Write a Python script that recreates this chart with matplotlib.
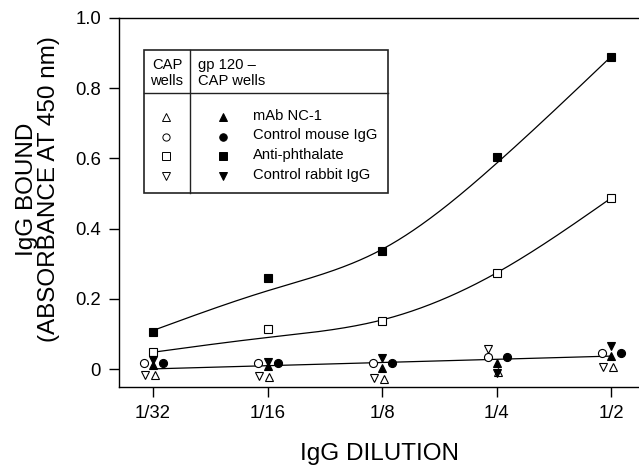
import numpy as np
import matplotlib
matplotlib.use("Agg")
import matplotlib.pyplot as plt
from matplotlib.transforms import ScaledTranslation
from matplotlib.lines import Line2D
from matplotlib.patches import Rectangle
from matplotlib.ticker import NullLocator

plt.rcParams['font.family'] = ['Liberation Sans', 'DejaVu Sans']

# IgG dilutions on the x axis
dilution = [1/32, 1/16, 1/8, 1/4, 1/2]
dilution_labels = ["1/32", "1/16", "1/8", "1/4", "1/2"]
y_ticks = [0, 0.2, 0.4, 0.6, 0.8, 1.0]
y_tick_labels = ["0", "0.2", "0.4", "0.6", "0.8", "1.0"]

# gp 120 - CAP wells (filled symbols)
gp_nc1 = [0.012, 0.009, 0.003, 0.018, 0.037]
gp_mouse = [0.018, 0.016, 0.016, 0.035, 0.047]
gp_phthal = [0.105, 0.26, 0.337, 0.605, 0.89]
gp_rabbit = [0.026, 0.021, 0.032, -0.012, 0.066]

# CAP wells (open symbols)
cap_nc1 = [-0.018, -0.022, -0.028, -0.009, 0.005]
cap_mouse = [0.016, 0.016, 0.016, 0.035, 0.047]
cap_phthal = [0.048, 0.115, 0.138, 0.274, 0.487]
cap_rabbit = [-0.016, -0.020, -0.024, 0.056, 0.007]

# regression curves evaluated at each dilution
fit_gp_phthal = [0.11, 0.223, 0.341, 0.586, 0.89]
fit_cap_phthal = [0.048, 0.09, 0.14, 0.274, 0.487]
fit_controls = [0.0, 0.011, 0.018, 0.028, 0.037]


def natural_spline(x, y, xs):
    """Natural cubic spline through (x, y), evaluated at xs."""
    x = np.asarray(x, float)
    y = np.asarray(y, float)
    n = len(x)
    h = np.diff(x)
    A = np.zeros((n, n))
    b = np.zeros(n)
    A[0, 0] = A[-1, -1] = 1.0
    for k in range(1, n - 1):
        A[k, k - 1] = h[k - 1]
        A[k, k] = 2 * (h[k - 1] + h[k])
        A[k, k + 1] = h[k]
        b[k] = 6 * ((y[k + 1] - y[k]) / h[k] - (y[k] - y[k - 1]) / h[k - 1])
    M = np.linalg.solve(A, b)
    i = np.clip(np.searchsorted(x, xs) - 1, 0, n - 2)
    a = x[i + 1] - xs
    c = xs - x[i]
    hi = h[i]
    return (M[i] * a**3 / (6 * hi) + M[i + 1] * c**3 / (6 * hi)
            + (y[i] / hi - M[i] * hi / 6) * a
            + (y[i + 1] / hi - M[i + 1] * hi / 6) * c)


W, H = 639, 466
fig = plt.figure(figsize=(W / 100, H / 100), dpi=100)
ax = fig.add_axes([119 / W, 1 - 387 / H, 520 / W, (387 - 18) / H])

ax.set_xscale('log', base=2)
ax.set_xlim(2 ** -5.297, 2 ** -0.756)
ax.set_ylim(-0.051, 1.0)
ax.set_xticks(dilution)
ax.set_xticklabels(dilution_labels)
ax.xaxis.set_minor_locator(NullLocator())
ax.set_yticks(y_ticks)
ax.set_yticklabels(y_tick_labels)
ax.tick_params(direction='out', length=7, width=1.0, labelsize=13.3, pad=6)
ax.spines['right'].set_visible(False)
for s in ('left', 'bottom', 'top'):
    ax.spines[s].set_linewidth(1.0)

ax.set_xlabel("IgG DILUTION", fontsize=17.5, labelpad=15)
ax.set_ylabel("IgG BOUND\n(ABSORBANCE AT 450 nm)", fontsize=17.5, linespacing=1.0)
ax.yaxis.set_label_coords(-0.113, 0.537)

# smooth regression curves
t = np.log2(dilution)
tt = np.linspace(t[0], t[-1], 300)
for fit in (fit_gp_phthal, fit_cap_phthal):
    ax.plot(2 ** tt, natural_spline(t, fit, tt), color='black', lw=0.9, zorder=2)
coef = np.polyfit(t, fit_controls, 1)
ax.plot(2 ** tt, np.polyval(coef, tt), color='black', lw=0.9, zorder=2)


def shifted(dx_pt):
    return ax.transData + ScaledTranslation(dx_pt / 72, 0, fig.dpi_scale_trans)


series = [
    (cap_nc1, '^', 'white', 1.4, 6.3),
    (cap_rabbit, 'v', 'white', -5.8, 6.3),
    (cap_mouse, 'o', 'white', -6.5, 5.8),
    (cap_phthal, 's', 'white', 0, 6.0),
    (gp_nc1, '^', 'black', 0, 6.3),
    (gp_rabbit, 'v', 'black', 0, 6.3),
    (gp_mouse, 'o', 'black', 7.2, 5.8),
    (gp_phthal, 's', 'black', 0, 6.0),
]
for vals, mk, fc, dx, ms in series:
    ax.plot(dilution, vals, linestyle='none', marker=mk, markersize=ms,
            markerfacecolor=fc, markeredgecolor='black', markeredgewidth=0.8,
            transform=shifted(dx), zorder=3)


# key box, placed in figure pixel units measured from the top-left corner
def fx(px):
    return px / W


def fy(py):
    return 1 - py / H


box_col = '#222222'
fig.patches.append(Rectangle((fx(144), fy(193)), fx(388) - fx(144), fy(50) - fy(193),
                             transform=fig.transFigure, fill=False,
                             edgecolor=box_col, linewidth=1.2, zorder=5))
fig.add_artist(Line2D([fx(190), fx(190)], [fy(50), fy(193)], color=box_col, lw=1.0))
fig.add_artist(Line2D([fx(144), fx(388)], [fy(93), fy(93)], color=box_col, lw=1.0))

kfs = 10.6
fig.text(fx(167), fy(65), "CAP", ha='center', va='center', fontsize=kfs)
fig.text(fx(167), fy(81), "wells", ha='center', va='center', fontsize=kfs)
fig.text(fx(198), fy(65), "gp 120 \u2013", ha='left', va='center', fontsize=kfs)
fig.text(fx(198), fy(81), "CAP wells", ha='left', va='center', fontsize=kfs)

key_rows = [
    ('^', "mAb NC-1"),
    ('o', "Control mouse IgG"),
    ('s', "Anti-phthalate"),
    ('v', "Control rabbit IgG"),
]
row_y = [116, 135.5, 155, 174.5]
for (mk, label), ry in zip(key_rows, row_y):
    fig.add_artist(Line2D([fx(166)], [fy(ry + 1)], marker=mk, markersize=5.2,
                          markerfacecolor='white', markeredgecolor='black',
                          markeredgewidth=0.7, linestyle='none'))
    fig.add_artist(Line2D([fx(223)], [fy(ry + 1)], marker=mk, markersize=5.4,
                          markerfacecolor='black', markeredgecolor='black',
                          markeredgewidth=0.7, linestyle='none'))
    fig.text(fx(253), fy(ry), label, ha='left', va='center', fontsize=kfs)

fig.savefig("out.png", dpi=100)
